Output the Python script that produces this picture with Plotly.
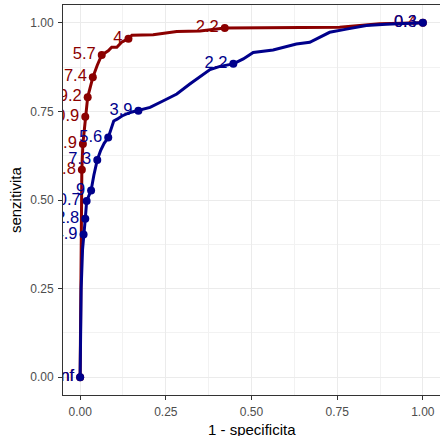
import plotly.graph_objects as go

# ROC curve A (dark red)
red_fpr = [0, 0.002, 0.005, 0.008, 0.015, 0.022, 0.03, 0.037, 0.05, 0.063, 0.082, 0.092, 0.107,
           0.121, 0.141, 0.151, 0.213, 0.282, 0.35, 0.422, 0.757, 0.874, 1.0]
red_tpr = [0, 0.3, 0.585, 0.658, 0.735, 0.79, 0.82, 0.846, 0.88, 0.909, 0.921, 0.931, 0.931,
           0.945, 0.955, 0.965, 0.966, 0.975, 0.977, 0.985, 0.987, 0.997, 1.0]
red_pt_fpr = [0, 0.005, 0.008, 0.015, 0.022, 0.037, 0.063, 0.141, 0.422, 1.0]
red_pt_tpr = [0, 0.585, 0.658, 0.735, 0.79, 0.846, 0.909, 0.955, 0.985, 1.0]
red_labels = ["-Inf", "14.8", "12.9", "10.9", "9.2", "7.4", "5.7", "4", "2.2", "0.4"]

# ROC curve B (dark blue)
blue_fpr = [0, 0.003, 0.007, 0.01, 0.015, 0.019, 0.025, 0.032, 0.04, 0.05, 0.06, 0.07, 0.082,
            0.09, 0.098, 0.108, 0.122, 0.146, 0.17, 0.204, 0.243, 0.282, 0.32, 0.35, 0.379,
            0.408, 0.447, 0.476, 0.505, 0.563, 0.631, 0.67, 0.699, 0.728, 0.777, 0.835,
            0.893, 0.97, 1.0]
blue_tpr = [0, 0.25, 0.36, 0.403, 0.447, 0.497, 0.51, 0.527, 0.57, 0.613, 0.64, 0.66, 0.676,
            0.7, 0.723, 0.728, 0.737, 0.747, 0.752, 0.761, 0.78, 0.799, 0.827, 0.848, 0.868,
            0.877, 0.884, 0.898, 0.916, 0.923, 0.94, 0.945, 0.959, 0.973, 0.982, 0.992,
            0.996, 0.998, 1.0]
blue_pt_fpr = [0, 0.01, 0.015, 0.019, 0.032, 0.05, 0.082, 0.17, 0.447, 1.0]
blue_pt_tpr = [0, 0.403, 0.447, 0.497, 0.527, 0.613, 0.676, 0.752, 0.884, 1.0]
blue_labels = ["-Inf", "14.9", "12.8", "10.7", "9", "7.3", "5.6", "3.9", "2.2", "0.3"]

x_ticks = [0, 0.25, 0.5, 0.75, 1.0]
y_ticks = [0, 0.25, 0.5, 0.75, 1.0]

RED = "#8B0000"
BLUE = "#00008B"
FONT = "Liberation Sans"

fig = go.Figure()
for fpr, tpr, pf, pt, lab, col in [
    (red_fpr, red_tpr, red_pt_fpr, red_pt_tpr, red_labels, RED),
    (blue_fpr, blue_tpr, blue_pt_fpr, blue_pt_tpr, blue_labels, BLUE),
]:
    fig.add_trace(go.Scatter(x=fpr, y=tpr, mode="lines",
                             line=dict(color=col, width=3, shape="linear"),
                             cliponaxis=True, hoverinfo="skip"))
    fig.add_trace(go.Scatter(x=pf, y=pt, mode="markers+text", text=lab,
                             textposition="middle left",
                             textfont=dict(family=FONT, size=16.5, color=col),
                             marker=dict(color=col, size=8),
                             cliponaxis=True))

axis_common = dict(
    showline=True, linecolor="#333333", linewidth=1, mirror=True,
    ticks="outside", ticklen=4, tickcolor="#333333", tickwidth=1,
    ticklabelstandoff=2,
    tickfont=dict(family=FONT, size=12, color="#4D4D4D"),
    showgrid=True, gridcolor="#EBEBEB", gridwidth=1,
    zeroline=False, tickformat=".2f",
    minor=dict(showgrid=True, gridcolor="#F2F2F2", gridwidth=0.6, dtick=0.125, tick0=0),
)

fig.update_layout(
    width=440, height=436,
    margin=dict(l=63, r=0, t=5, b=41),
    paper_bgcolor="white", plot_bgcolor="white",
    showlegend=False,
    font=dict(family=FONT),
    xaxis=dict(range=[-0.05, 1.05], tickvals=x_ticks, **axis_common),
    yaxis=dict(range=[-0.05, 1.05], tickvals=y_ticks, **axis_common),
    annotations=[
        dict(text="1 - specificita", xref="paper", yref="paper", x=0.5, y=-0.0897,
             xanchor="center", yanchor="middle", showarrow=False,
             font=dict(family=FONT, size=15, color="black")),
        dict(text="senzitivita", xref="paper", yref="paper", x=-0.127, y=0.5,
             xanchor="center", yanchor="middle", showarrow=False, textangle=-90,
             font=dict(family=FONT, size=15, color="black")),
    ],
)

fig.write_html("out.html")
